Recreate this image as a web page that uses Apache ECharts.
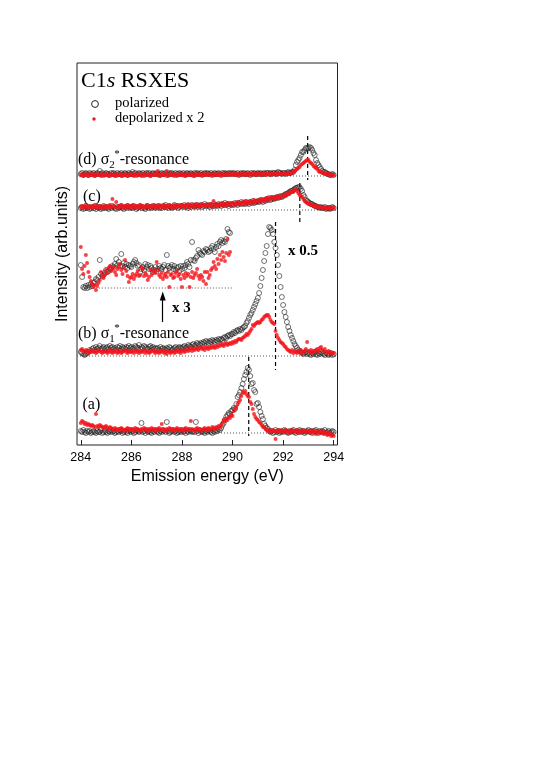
<!DOCTYPE html>
<html>
<head>
<meta charset="utf-8">
<script src="https://cdn.jsdelivr.net/npm/echarts@6/dist/echarts.min.js"></script>
<style>
  html, body { margin: 0; padding: 0; background: #fff; }
  #chart { width: 545px; height: 771px; }
</style>
</head>
<body>
<div id="chart"></div>
<script>
// energy grid of every spectrum starts at 284 eV, 0.05 eV per point
const E0 = 284
const STEP = 0.05

// vertical offsets of the stacked spectra (arb. units)
const offsetA = 12
const offsetB = 89
const offsetInset = 157
const offsetC = 235
const offsetD = 269

const xTicks = [284, 286, 288, 290, 292, 294]

// (a)
const aPol = [
  2,1,3,1,0,2,1,2,0,1,2,1,0,2,1,1,3,0,1,2,
  1,0,2,1,3,1,2,0,1,2,1,3,2,0,1,2,1,0,2,3,
  1,2,0,1,3,2,1,2,10,1,2,0,3,1,2,1,0,2,1,3,
  2,1,0,2,1,3,2,1,11,2,0,1,2,3,1,2,0,1,2,1,
  3,1,2,0,2,1,3,2,1,2,1,11,2,0,3,1,2,1,0,2,
  1,3,2,1,0,2,1,3,2,4,3,5,8,10,13,16,18,20,19,22,
  23,25,24,29,36,38,41,45,49,54,58,61,65,63,57,49,50,43,41,29,
  30,26,21,17,14,9,7,5,4,2,1,2,0,1,3,1,2,0,1,2,
  1,3,2,1,0,2,1,2,3,1,0,2,1,3,2,1,2,0,1,2,
  3,1,2,0,1,2,3,1,0,2,1,2,1,3,0,1,2,0,1,2,1
]
const aDep = [
  10,12,11,9,10,8,9,8,7,8,7,6,19,7,6,8,7,6,5,6,
  7,5,4,6,5,4,3,5,4,3,4,3,5,4,2,3,4,5,3,4,
  3,4,2,5,3,4,3,2,4,3,5,4,3,2,4,3,5,3,4,2,
  3,4,5,3,9,4,3,2,4,3,5,4,3,4,2,3,5,4,3,4,
  3,2,4,5,3,4,3,12,4,3,2,4,5,3,4,2,3,4,5,3,
  4,5,3,4,6,5,4,6,5,7,6,8,10,13,12,14,13,16,15,18,
  17,22,24,26,29,31,33,37,41,40,42,39,37,36,31,29,24,19,16,14,
  13,11,10,8,6,6,4,3,2,3,1,2,3,2,-6,1,2,3,1,2,
  2,1,3,2,0,2,1,3,2,1,2,3,1,0,2,1,3,2,1,2,
  1,2,0,3,1,2,-1,1,2,0,1,2,-1,0,1,-2,-1,0,-3,-2,-3
]

// (b) sigma1* resonance, shown x 0.5
const bPol = [
  4,3,2,1,2,3,4,6,5,7,8,6,9,7,8,10,7,8,9,7,
  8,9,7,10,8,9,7,8,6,9,8,10,7,9,8,7,9,8,10,8,
  9,7,8,10,9,8,11,7,9,8,10,9,8,7,9,10,8,9,7,8,
  7,8,6,9,7,8,7,6,8,7,9,8,6,7,8,9,7,8,9,8,
  8,9,10,8,9,11,10,9,11,12,10,11,13,12,11,13,12,14,13,15,
  14,13,15,14,16,15,14,16,15,17,16,17,16,18,19,18,20,21,20,22,
  22,24,23,25,26,25,27,26,28,29,30,33,35,38,41,43,46,49,52,55,
  58,63,70,78,86,95,103,110,122,129,128,126,122,114,108,101,91,80,69,59,
  51,44,39,34,29,25,21,18,15,12,10,8,6,5,4,3,2,3,4,2,
  3,2,1,3,2,4,2,1,3,2,4,3,2,1,3,2,1,2,3,1,2
]
const bDep = [
  6,7,5,4,6,5,3,4,5,6,4,5,3,4,6,5,4,3,5,4,
  5,3,4,6,4,3,5,4,6,3,4,5,3,4,5,6,4,3,5,4,
  4,5,3,6,4,5,3,4,5,4,6,3,5,4,3,4,5,6,4,3,
  5,4,3,5,4,6,3,4,2,5,4,3,4,5,3,4,6,4,5,3,
  5,6,4,5,7,5,6,8,5,7,6,8,7,6,8,9,7,8,6,9,
  8,7,9,8,10,9,8,10,9,11,10,12,11,10,12,13,11,12,13,12,
  14,13,15,14,16,17,17,16,18,19,20,22,21,23,25,27,31,30,32,33,
  34,33,34,36,37,39,40,41,41,39,36,34,33,32,25,21,18,16,14,13,
  12,10,9,7,6,5,4,6,3,5,4,3,5,4,6,3,4,5,7,14,
  5,4,6,3,5,4,6,7,5,8,9,6,5,7,4,3,5,4,3,2,3
]

// (b) low-energy part, x 3 (284 - 289.9 eV)
const insetPol = [
  23,11,1,0,2,0,3,1,4,2,5,6,9,8,11,28,14,12,13,15,
  18,16,17,19,20,22,21,24,29,23,26,22,34,22,25,21,24,20,23,22,
  21,24,26,28,25,22,23,16,19,21,18,24,21,23,19,22,20,16,18,21,
  17,19,22,20,19,21,23,18,33,22,20,21,23,19,22,18,20,21,17,22,
  19,22,20,23,26,24,21,28,46,28,27,30,32,38,35,34,33,37,36,39,
  38,36,37,40,42,39,36,41,44,42,46,48,45,47,46,49,59,56,55
]
const insetDep = [
  41,19,14,22,33,25,16,11,7,4,1,3,-2,2,5,8,16,12,10,13,
  18,15,20,22,17,19,21,16,13,19,21,24,18,14,20,28,17,12,6,10,
  11,14,9,12,14,17,12,13,21,19,12,15,13,8,11,18,13,16,18,15,
  26,18,13,11,15,9,12,14,11,16,1,13,14,10,11,15,17,12,14,9,
  1,13,10,15,12,14,1,11,16,10,13,15,19,12,9,13,11,7,16,4,
  16,10,13,18,20,26,22,19,29,24,33,28,36,31,27,35,49,33,36
]

// (c)
const cPol = [
  2,3,1,2,4,2,3,1,2,3,2,4,1,3,2,3,1,2,4,2,
  3,2,1,3,2,4,3,2,1,3,2,3,4,2,1,3,2,4,3,2,
  3,2,4,3,1,2,3,4,2,3,2,1,3,4,2,3,2,4,3,2,
  3,4,2,3,2,4,3,5,3,2,4,3,2,3,5,3,4,2,3,4,
  4,3,5,3,4,2,4,3,5,4,3,4,5,3,4,5,3,4,6,4,
  5,4,3,5,4,6,4,5,4,6,5,4,6,5,7,5,6,4,6,5,
  6,5,7,6,5,7,6,8,6,7,6,8,7,6,8,7,9,7,8,8,
  9,8,10,9,8,10,9,11,10,12,10,11,12,11,12,13,12,13,14,13,
  14,15,16,16,17,18,19,19,20,21,22,22,23,23,21,19,15,13,10,9,
  8,7,6,6,5,4,4,3,3,2,3,2,2,3,1,2,2,1,2,3,2
]
const cDep = [
  3,4,2,3,5,3,2,4,3,2,4,3,5,2,3,4,3,2,4,3,
  2,4,3,5,3,11,4,3,8,2,4,3,5,3,2,4,3,5,2,4,
  3,5,2,4,3,4,2,5,3,4,2,3,5,4,3,2,4,3,5,3,
  4,2,5,3,4,3,5,2,4,3,5,4,3,2,5,4,3,5,4,3,
  5,4,3,5,4,6,3,4,5,3,4,6,5,4,3,5,6,4,5,4,
  5,4,6,5,3,9,5,6,4,5,6,5,7,4,6,5,7,6,5,6,
  7,6,5,7,8,6,7,6,8,7,9,6,8,7,9,8,7,10,8,9,
  9,10,8,11,10,9,11,12,10,12,11,13,12,11,13,12,14,13,12,14,
  14,15,14,16,17,16,18,19,18,20,21,19,17,15,14,13,11,9,8,7,
  6,6,5,5,4,4,3,4,3,2,3,2,3,2,1,2,3,2,1,2,2
]

// (d) sigma2* resonance
const dPol = [
  2,3,1,2,3,2,1,3,2,2,3,1,2,3,2,5,2,3,1,2,
  3,2,2,1,3,2,3,2,1,3,2,2,3,1,2,3,2,1,3,2,
  2,4,2,3,1,2,3,2,2,3,1,2,3,2,3,1,2,3,2,2,
  3,2,1,2,3,2,2,3,1,2,3,2,3,2,1,3,2,2,3,2,
  2,3,1,2,3,2,2,3,2,1,3,2,3,2,2,3,1,2,3,2,
  3,2,2,3,1,2,3,2,2,3,2,1,3,2,3,2,2,3,2,3,
  2,3,2,2,3,1,2,3,2,3,2,2,3,2,1,3,2,3,2,2,
  3,2,3,2,2,3,2,3,3,2,3,2,3,3,2,3,4,3,3,2,
  3,3,2,3,4,3,3,4,4,6,11,14,16,18,21,24,24,26,28,28,
  28,29,28,26,23,21,16,13,11,9,7,5,4,4,3,2,2,1,1,2,1
]
const dDep = [
  1,2,0,1,2,1,0,2,1,1,2,0,1,2,1,1,0,2,1,1,
  2,1,0,1,2,1,1,0,2,1,1,2,0,1,1,2,1,0,1,2,
  1,1,0,2,1,1,2,1,0,1,2,1,1,1,2,0,1,1,2,1,
  2,5,1,0,2,1,1,2,5,0,1,2,1,1,2,1,0,1,2,1,
  1,2,1,0,1,2,1,1,2,1,0,2,1,1,2,1,1,2,1,2,
  1,2,1,1,2,1,2,1,1,2,1,2,1,2,1,1,2,2,1,2,
  2,1,2,2,1,2,1,2,2,1,2,2,1,2,2,1,2,2,2,1,
  2,2,1,2,2,2,1,2,2,2,1,2,2,2,2,1,2,2,2,2,
  2,2,2,3,2,3,3,3,4,5,6,7,8,9,11,12,13,14,15,16,
  16,14,13,12,10,9,8,7,5,4,4,3,3,2,2,2,1,2,1,1,1
]

// peak markers: [energy, from, to]
const peakMarks = [
  [290.64, 88, 9],
  [291.70, 223, 75],
  [292.66, 262, 220],
  [292.97, 309, 265]
]
// dotted baselines: [energyFrom, energyTo, level]
const baselines = [
  [283.85, 294.15, offsetA],
  [283.85, 294.15, offsetB],
  [284.0, 290.0, offsetInset],
  [283.85, 294.15, offsetC],
  [283.85, 294.15, offsetD]
]
// "x 3" arrow
const arrowFrom = [287.24, 123]
const arrowTo = [287.24, 149]

const SERIF = '"Liberation Serif", "Times New Roman", serif'
const SANS = '"Liberation Sans", Arial, sans-serif'
const RED = '#f2141a'

const toPoints = (values, offset) =>
  values.map((v, i) => [+(E0 + i * STEP).toFixed(2), v + offset])

const polSeries = (values, offset) => ({
  type: 'scatter',
  symbol: 'circle',
  symbolSize: 5,
  itemStyle: { color: 'rgba(255,255,255,0)', borderColor: '#222', borderWidth: 0.8 },
  data: toPoints(values, offset),
  z: 3
})
const depSeries = (values, offset) => ({
  type: 'scatter',
  symbol: 'circle',
  symbolSize: 4,
  itemStyle: { color: RED },
  data: toPoints(values, offset),
  z: 4
})

// measuring helper for the sub/superscript labels
const ctx = document.createElement('canvas').getContext('2d')
const textWidth = (t, font) => { ctx.font = font; return ctx.measureText(t).width }

const txt = (text, x, y, font, extra) => ({
  type: 'text',
  x, y,
  style: Object.assign({
    text, font, fill: '#000',
    align: 'left', verticalAlign: 'middle',
    textAlign: 'left', textVerticalAlign: 'middle'
  }, extra || {})
})

// "(x) σn*-resonance" label made of pieces
const sigmaLabel = (prefix, sub, x, y) => {
  const big = '16px ' + SERIF
  const small = '11px ' + SERIF
  const w1 = textWidth(prefix + ' \u03c3', big)
  const w2 = textWidth(sub, small)
  const w3 = textWidth('*', small)
  return [
    txt(prefix + ' \u03c3', x, y, big),
    txt(sub, x + w1, y + 5, small),
    txt('*', x + w1 + w2 - 0.5, y - 6, small),
    txt('-resonance', x + w1 + w2 + w3 - 0.5, y, big)
  ]
}

const chart = echarts.init(document.getElementById('chart'))

const option = {
  animation: false,
  backgroundColor: '#fff',
  grid: {
    left: 77, top: 63, width: 260.5, height: 382,
    show: true, borderColor: '#222', borderWidth: 1, backgroundColor: 'transparent'
  },
  xAxis: {
    type: 'value',
    min: 283.85,
    max: 294.15,
    axisLine: { show: false },
    axisTick: { show: true, inside: true, length: 5, lineStyle: { color: '#222' }, customValues: xTicks },
    axisLabel: {
      customValues: xTicks, color: '#000', fontSize: 12.5, fontFamily: SANS, margin: 6
    },
    splitLine: { show: false },
    name: 'Emission energy (eV)',
    nameLocation: 'middle',
    nameGap: 24,
    nameTextStyle: { fontSize: 16, fontFamily: SANS, color: '#000' }
  },
  yAxis: {
    type: 'value',
    min: 0,
    max: 382,
    axisLine: { show: false },
    axisTick: { show: false },
    axisLabel: { show: false },
    splitLine: { show: false },
    name: 'Intensity (arb.units)',
    nameLocation: 'middle',
    nameGap: 6,
    nameTextStyle: { fontSize: 16, fontFamily: SANS, color: '#000' }
  },
  series: [
    ...baselines.map(b => ({
      type: 'line',
      symbol: 'none',
      silent: true,
      lineStyle: { color: '#555', width: 1, type: [1, 2] },
      data: [[b[0], b[2]], [b[1], b[2]]],
      z: 1
    })),
    ...peakMarks.map(m => ({
      type: 'line',
      symbol: 'none',
      silent: true,
      lineStyle: { color: '#000', width: 1.2, type: [4, 3] },
      data: [[m[0], m[1]], [m[0], m[2]]],
      z: 2
    })),
    {
      type: 'line',
      data: [],
      markLine: {
        silent: true,
        symbol: ['none', 'triangle'],
        symbolSize: [6, 9],
        label: { show: false },
        lineStyle: { color: '#000', width: 1.2, type: 'solid' },
        data: [[{ coord: arrowFrom }, { coord: arrowTo }]]
      }
    },
    polSeries(aPol, offsetA), depSeries(aDep, offsetA),
    polSeries(bPol, offsetB), depSeries(bDep, offsetB),
    polSeries(insetPol, offsetInset), depSeries(insetDep, offsetInset),
    polSeries(cPol, offsetC), depSeries(cDep, offsetC),
    polSeries(dPol, offsetD), depSeries(dDep, offsetD)
  ],
  graphic: [
    {
      type: 'text', x: 81, y: 81,
      style: {
        text: '{n|C1}{i|s}{n| RSXES}',
        rich: {
          n: { font: '22px ' + SERIF, fill: '#000' },
          i: { font: 'italic 22px ' + SERIF, fill: '#000' }
        },
        verticalAlign: 'middle', textVerticalAlign: 'middle'
      }
    },
    { type: 'circle', shape: { cx: 95, cy: 104, r: 3.4 }, style: { fill: 'none', stroke: '#222', lineWidth: 1 } },
    { type: 'circle', shape: { cx: 94, cy: 119, r: 1.7 }, style: { fill: RED } },
    txt('polarized', 115, 103.5, '14.5px ' + SERIF),
    txt('depolarized x 2', 115, 118.5, '14.5px ' + SERIF),
    ...sigmaLabel('(d)', '2', 78, 160),
    txt('(c)', 83, 197, '16px ' + SERIF),
    ...sigmaLabel('(b)', '1', 78, 334),
    txt('(a)', 82.5, 405, '16px ' + SERIF),
    txt('x 0.5', 288, 251, 'bold 15px ' + SERIF),
    txt('x 3', 172, 308, 'bold 15px ' + SERIF)
  ]
}

chart.setOption(option)
</script>
</body>
</html>
